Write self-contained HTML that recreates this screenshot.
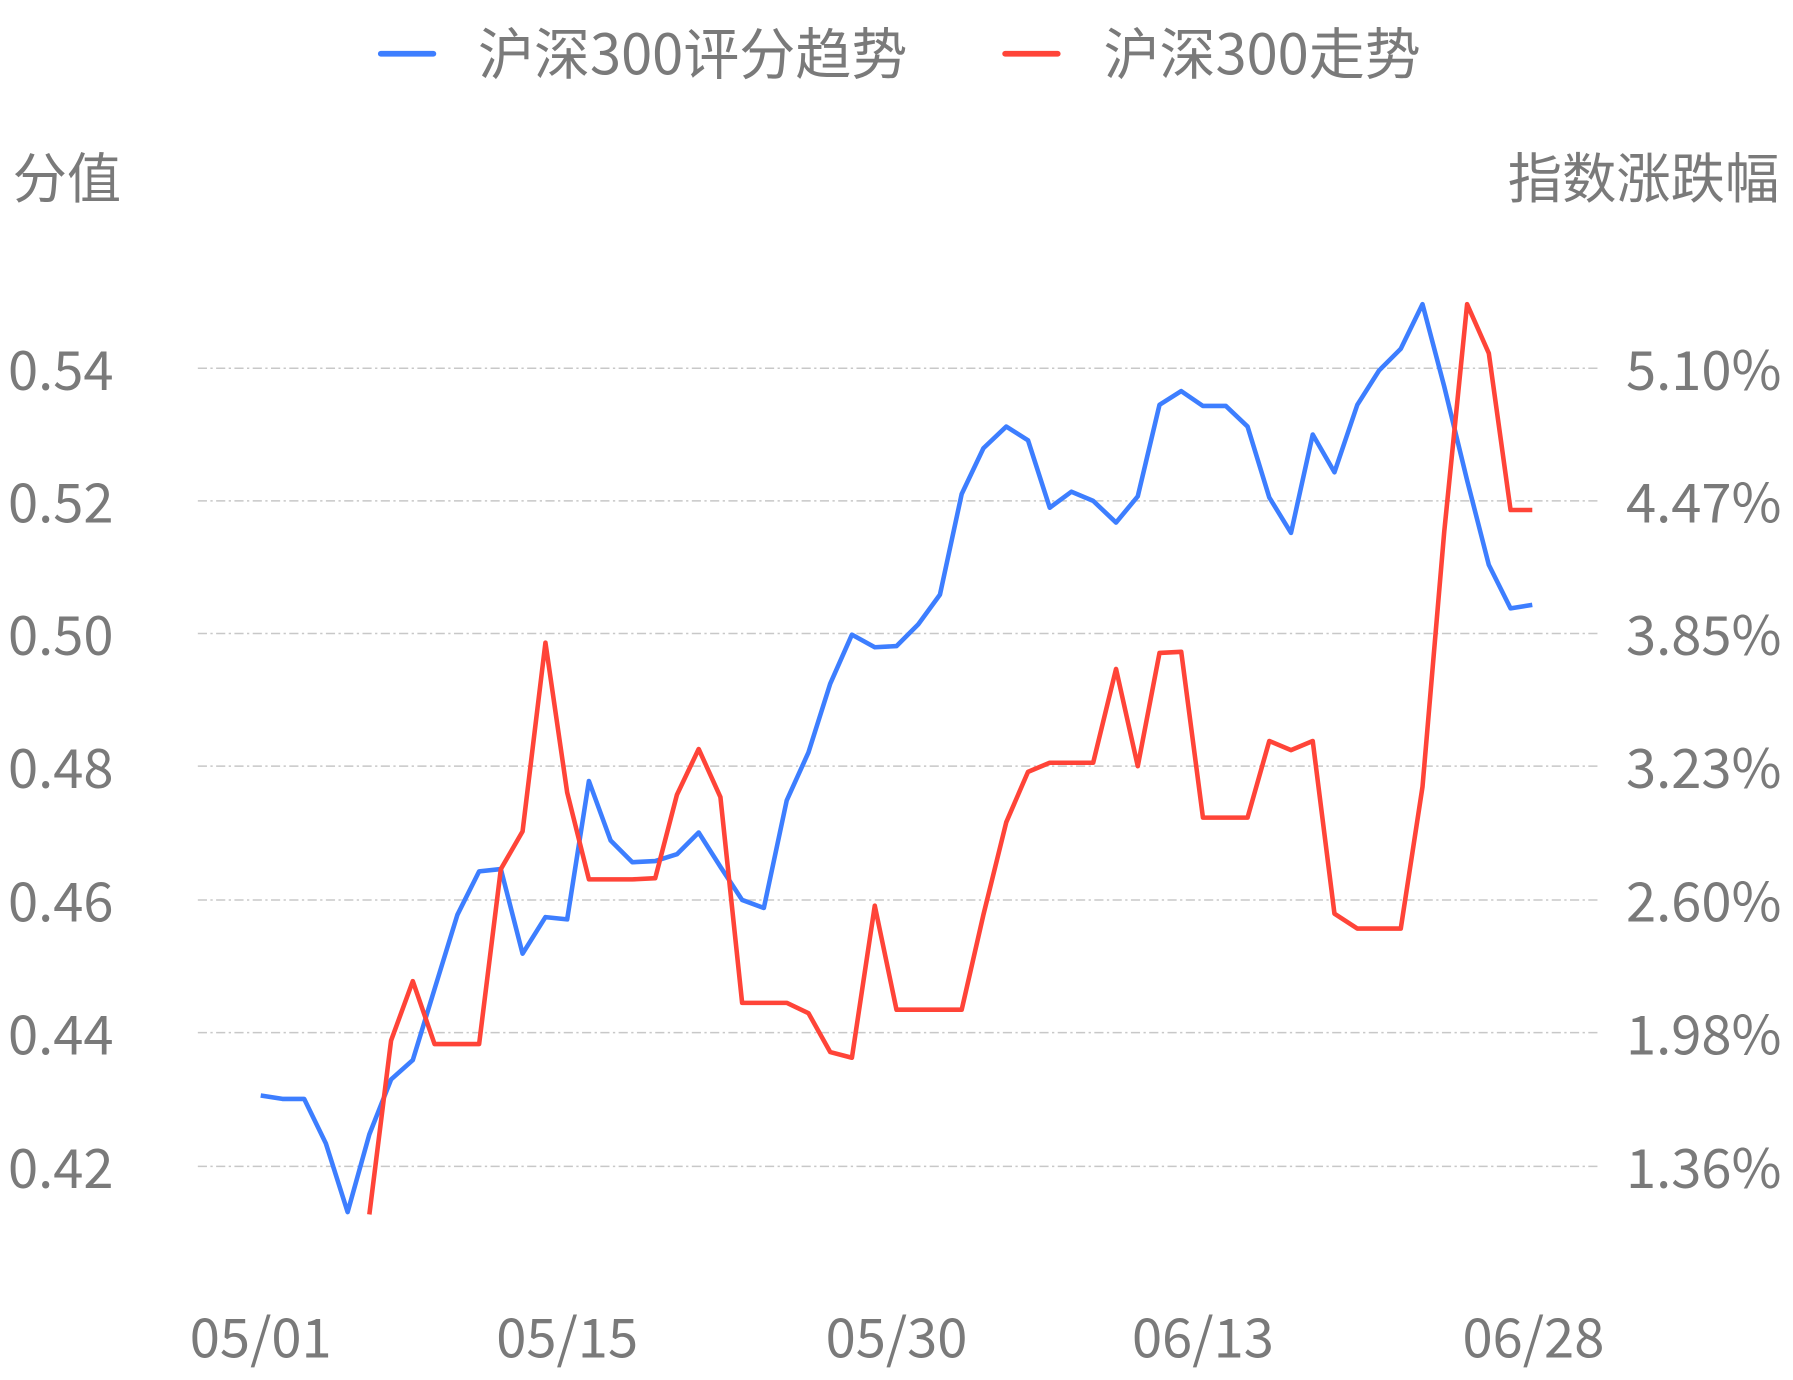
<!DOCTYPE html>
<html><head><meta charset="utf-8"><style>
html,body{margin:0;padding:0;background:#fff;}
svg{display:block;}
text{font-family:"Noto Sans CJK SC","Liberation Sans",sans-serif;fill:#7a7a7a;}
</style></head><body>
<svg width="1793" height="1380" viewBox="0 0 1568 1206.8" xmlns="http://www.w3.org/2000/svg">
<g stroke="#c8c8c8" stroke-width="1.3" stroke-dasharray="8,3,2,3">
<line x1="173" x2="1397" y1="322" y2="322"/><line x1="173" x2="1397" y1="438" y2="438"/>
<line x1="173" x2="1397" y1="554" y2="554"/><line x1="173" x2="1397" y1="670" y2="670"/>
<line x1="173" x2="1397" y1="787" y2="787"/><line x1="173" x2="1397" y1="903" y2="903"/>
<line x1="173" x2="1397" y1="1020" y2="1020"/>
</g>
<g font-size="47.5">
<text x="7" y="341">0.54</text><text x="7" y="457">0.52</text><text x="7" y="573">0.50</text>
<text x="7" y="689">0.48</text><text x="7" y="806">0.46</text><text x="7" y="922">0.44</text>
<text x="7" y="1039">0.42</text>
</g>
<g font-size="47.5" text-anchor="end">
<text x="1558" y="341">5.10%</text><text x="1558" y="457">4.47%</text><text x="1558" y="573">3.85%</text>
<text x="1558" y="689">3.23%</text><text x="1558" y="806">2.60%</text><text x="1558" y="922">1.98%</text>
<text x="1558" y="1039">1.36%</text>
</g>
<g font-size="47.5" text-anchor="middle">
<text x="228" y="1187">05/01</text><text x="496" y="1187">05/15</text><text x="784" y="1187">05/30</text>
<text x="1052" y="1187">06/13</text><text x="1341" y="1187">06/28</text>
</g>
<text x="11" y="173" font-size="47.5">分值</text>
<text x="1556" y="173" font-size="47.5" text-anchor="end">指数涨跌幅</text>
<line x1="333" x2="379" y1="47" y2="47" stroke="#3d7eff" stroke-width="5" stroke-linecap="round"/>
<text x="418" y="65" font-size="49">沪深300评分趋势</text>
<line x1="879" x2="925" y1="47" y2="47" stroke="#ff4438" stroke-width="5" stroke-linecap="round"/>
<text x="965" y="65" font-size="49">沪深300走势</text>
<polyline fill="none" stroke="#3d7eff" stroke-width="4" stroke-linejoin="round" points="228,958 247,961 266,961 285,1000 304,1060 323,992 342,944 361,927 380,865 400,800 419,762 438,760 457,834 477,802 496,804 515,683 534,735 553,754 573,753 592,747 611,728 630,758 649,787 668,794 688,700 707,658 726,598 745,555 765,566 784,565 803,546 822,520 841,432 860,392 880,373 899,385 918,444 937,430 956,438 976,457 995,434 1014,354 1033,342 1052,355 1072,355 1091,373 1110,435 1129,466 1148,380 1167,413 1187,354 1206,324 1225,305 1244,266 1263,338 1283,420 1302,494 1321,532 1340,529"/>
<polyline fill="none" stroke="#ff4438" stroke-width="4" stroke-linejoin="round" points="323,1062 342,910 361,858 380,913 400,913 419,913 438,760 457,727 477,562 496,693 515,769 534,769 553,769 573,768 592,695 611,655 630,697 649,877 668,877 688,877 707,886 726,920 745,925 765,792 784,883 803,883 822,883 841,883 860,800 880,719 899,675 918,667 937,667 956,667 976,585 995,670 1014,571 1033,570 1052,715 1072,715 1091,715 1110,648 1129,656 1148,648 1167,799 1187,812 1206,812 1225,812 1244,688 1263,465 1283,266 1302,309 1321,446 1340,446"/>
</svg>
</body></html>
